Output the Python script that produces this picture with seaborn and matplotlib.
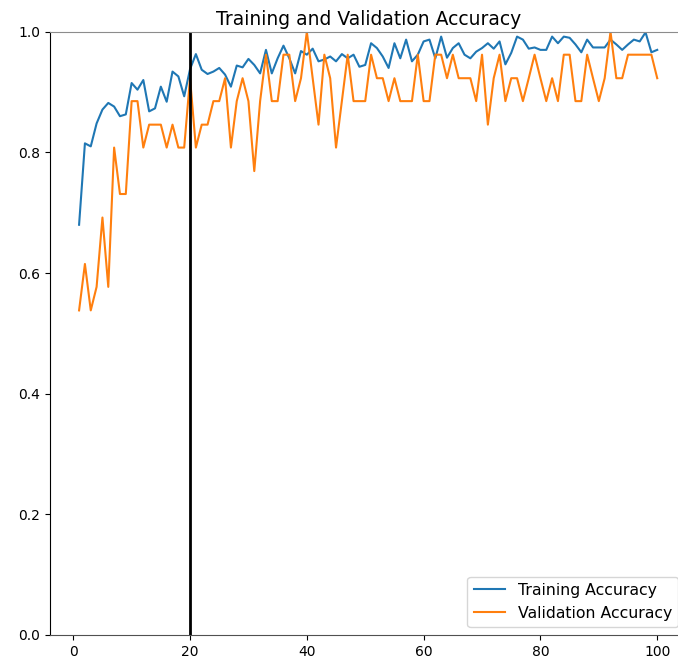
import numpy as np
import pandas as pd
import matplotlib
matplotlib.use('Agg')
import matplotlib.pyplot as plt
import seaborn as sns

# accuracy per epoch
epochs = list(range(1, 101))

train_acc = [0.680, 0.815, 0.810, 0.848, 0.871, 0.882, 0.876, 0.860, 0.863, 0.915,
             0.904, 0.920, 0.868, 0.873, 0.909, 0.884, 0.934, 0.926, 0.893, 0.938,
             0.963, 0.937, 0.930, 0.934, 0.940, 0.929, 0.909, 0.944, 0.941, 0.955,
             0.945, 0.931, 0.970, 0.931, 0.956, 0.977, 0.956, 0.931, 0.968, 0.962,
             0.972, 0.951, 0.954, 0.959, 0.951, 0.963, 0.956, 0.962, 0.942, 0.945,
             0.981, 0.973, 0.959, 0.940, 0.981, 0.956, 0.987, 0.951, 0.962, 0.984,
             0.987, 0.956, 0.992, 0.957, 0.973, 0.981, 0.962, 0.956, 0.967, 0.973,
             0.981, 0.972, 0.984, 0.946, 0.965, 0.992, 0.987, 0.972, 0.974, 0.970,
             0.970, 0.992, 0.981, 0.992, 0.990, 0.979, 0.966, 0.987, 0.974, 0.974,
             0.974, 0.987, 0.979, 0.970, 0.979, 0.987, 0.984, 0.999, 0.966, 0.970]

val_acc = [0.538, 0.615, 0.538, 0.577, 0.692, 0.577, 0.808, 0.731, 0.731, 0.885,
           0.885, 0.808, 0.846, 0.846, 0.846, 0.808, 0.846, 0.808, 0.808, 0.923,
           0.808, 0.846, 0.846, 0.885, 0.885, 0.923, 0.808, 0.885, 0.923, 0.885,
           0.769, 0.885, 0.962, 0.885, 0.885, 0.962, 0.962, 0.885, 0.923, 1.000,
           0.923, 0.846, 0.962, 0.923, 0.808, 0.885, 0.962, 0.885, 0.885, 0.885,
           0.962, 0.923, 0.923, 0.885, 0.923, 0.885, 0.885, 0.885, 0.962, 0.885,
           0.885, 0.962, 0.962, 0.923, 0.962, 0.923, 0.923, 0.923, 0.885, 0.962,
           0.846, 0.923, 0.962, 0.885, 0.923, 0.923, 0.885, 0.923, 0.962, 0.923,
           0.885, 0.923, 0.885, 0.962, 0.962, 0.885, 0.885, 0.962, 0.923, 0.885,
           0.923, 1.000, 0.923, 0.923, 0.962, 0.962, 0.962, 0.962, 0.962, 0.923]

fine_tune_at = 20

df = pd.DataFrame({'epoch': epochs, 'train': train_acc, 'val': val_acc})

fig = plt.figure(figsize=(6.78, 6.62), dpi=100)
# axes run a little past the right edge, like the cropped original
ax = fig.add_axes([0.074, 0.041, 0.938, 0.911])

sns.lineplot(data=df, x='epoch', y='train', color='#1f77b4', label='Training Accuracy', ax=ax)
sns.lineplot(data=df, x='epoch', y='val', color='#ff7f0e', label='Validation Accuracy', ax=ax)
ax.axvline(fine_tune_at, color='black', linewidth=2)

ax.set_ylim(0, 1.0)
ax.set_xticks([0, 20, 40, 60, 80, 100])
ax.set_xlabel('')
ax.set_ylabel('')
ax.spines['top'].set_color('#8c8c8c')
ax.spines['bottom'].set_color('#505050')
ax.set_title('Training and Validation Accuracy', fontsize=13.5, pad=5)
ax.legend(loc='lower right', fontsize=11.3)

fig.savefig('out.png', dpi=100)
